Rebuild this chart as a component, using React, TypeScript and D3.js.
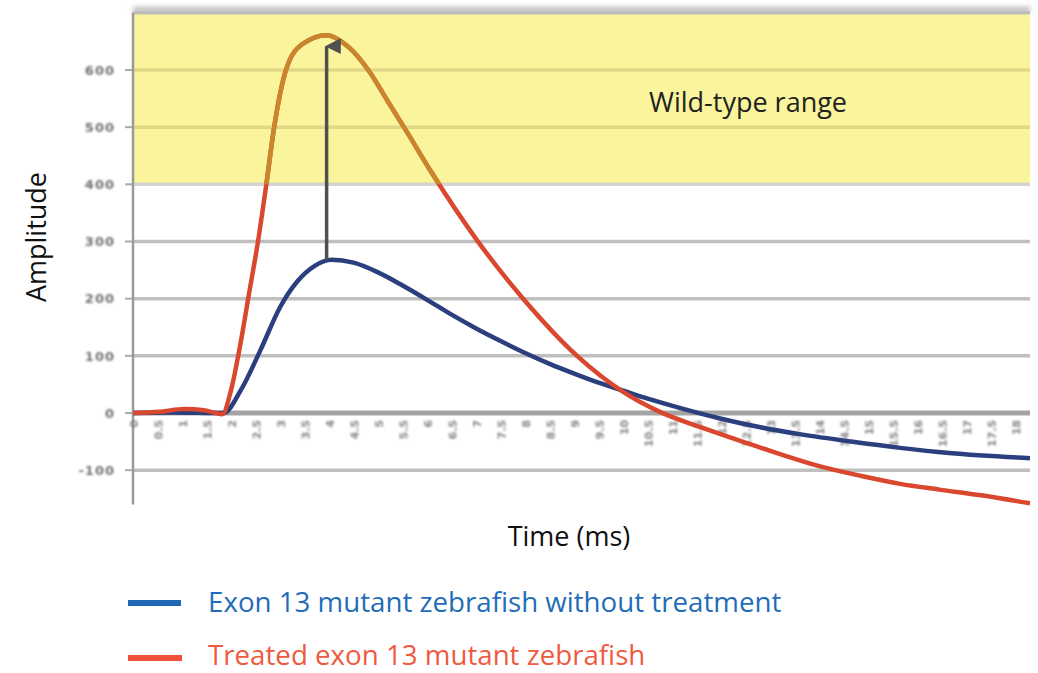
import React from "react";
import * as d3 from "d3";

// time in ms, amplitude values
const redTimes = [0, 0.55, 1.05, 1.45, 1.82, 2.0, 2.2, 2.37, 2.55, 2.72, 2.88, 3.12, 3.45, 3.95, 4.4, 4.8, 5.2, 5.6, 6.06, 7.02, 7.96, 9.06, 10.0, 10.75, 11.55, 12.4, 13.2, 14.0, 14.85, 15.65, 16.45, 17.3, 18.3];
const redValues = [0, 2, 7, 5, -2, 40, 125, 210, 300, 400, 500, 600, 645, 661, 640, 600, 545, 490, 425, 302, 200, 100, 37, 2, -24, -49, -72, -93, -110, -124, -134, -144, -158];

const blueTimes = [0, 0.8, 1.85, 2.2, 2.6, 3.0, 3.35, 3.7, 4.05, 4.5, 5.0, 5.5, 6.0, 6.5, 7.0, 7.5, 8.0, 8.5, 9.0, 9.5, 10.0, 10.5, 11.15, 12.0, 12.8, 13.6, 14.65, 15.65, 16.65, 18.3];
const blueValues = [0, 1, 0, 40, 110, 185, 230, 257, 268, 263, 246, 223, 198, 172, 148, 126, 105, 86, 69, 53, 39, 25, 9, -10, -25, -37, -50, -61, -70, -79];

const yTicks = [700, 600, 500, 400, 300, 200, 100, 0, -100];
const yLabels = ["600", "500", "400", "300", "200", "100", "0", "-100"];
const xTickLabels = ["0", "0.5", "1", "1.5", "2", "2.5", "3", "3.5", "4", "4.5", "5", "5.5", "6", "6.5", "7", "7.5", "8", "8.5", "9", "9.5", "10", "10.5", "11", "11.5", "12", "12.5", "13", "13.5", "14", "14.5", "15", "15.5", "16", "16.5", "17", "17.5", "18"];

const wildRange = [400, 700];

const seriesNames = ["Exon 13 mutant zebrafish without treatment", "Treated exon 13 mutant zebrafish"];

export default function App() {
  const width = 1038;
  const height = 673;
  const left = 133;
  const right = 1030;

  const x = d3.scaleLinear().domain([0, 18.3]).range([left, right]);
  const y = d3.scaleLinear().domain([0, 600]).range([413, 70]);
  const yBottom = y(-160);

  const line = d3
    .line<[number, number]>()
    .x((d) => x(d[0]))
    .y((d) => y(d[1]))
    .curve(d3.curveMonotoneX);

  const red = redTimes.map((t, i) => [t, redValues[i]] as [number, number]);
  const blue = blueTimes.map((t, i) => [t, blueValues[i]] as [number, number]);

  const redPeak = red.reduce((a, b) => (b[1] > a[1] ? b : a));
  const bluePeak = blue.reduce((a, b) => (b[1] > a[1] ? b : a));
  const arrowX = x(redPeak[0]);

  const font = "'Open Sans', sans-serif";

  return (
    <svg width={width} height={height} style={{ position: "absolute", left: 0, top: 0, background: "#fff" }}>
      <defs>
        <filter id="soft" x="-20%" y="-20%" width="140%" height="140%">
          <feGaussianBlur stdDeviation="0.8" />
        </filter>
        <filter id="shadow" x="-5%" y="-200%" width="110%" height="500%">
          <feGaussianBlur stdDeviation="2.5" />
        </filter>
        <clipPath id="band">
          <rect x={left} y={y(wildRange[1])} width={right - left} height={y(wildRange[0]) - y(wildRange[1])} />
        </clipPath>
        <marker id="arrow" viewBox="0 0 10 10" refX="5" refY="1" markerWidth="4.5" markerHeight="5" orient="auto-start-reverse">
          <path d="M0,10 L5,0 L10,10 Z" fill="#505050" />
        </marker>
      </defs>

      {/* top shadow */}
      <rect x={left} y={y(700) - 6} width={right - left} height={6} fill="#bbb" filter="url(#shadow)" />

      {/* wild-type band */}
      <rect x={left} y={y(wildRange[1])} width={right - left} height={y(wildRange[0]) - y(wildRange[1])} fill="#faf49c" />

      {/* grid lines */}
      {yTicks.map((v) => {
        const inBand = v > wildRange[0] && v < wildRange[1];
        const isZero = v === 0;
        return (
          <g key={v}>
            <line
              x1={left}
              x2={right}
              y1={y(v)}
              y2={y(v)}
              stroke={inBand ? "#ddd585" : isZero ? "#9a9a9a" : v === 400 ? "#cfcfcf" : "#b8b8b8"}
              strokeWidth={isZero ? 5 : 3.5}
              strokeOpacity={0.9}
            />
            {v !== 700 && <line x1={left - 8} x2={left} y1={y(v)} y2={y(v)} stroke="#aaa" strokeWidth={2} />}
          </g>
        );
      })}
      <line x1={left} x2={left} y1={y(700)} y2={yBottom} stroke="#9a9a9a" strokeWidth={2.5} />

      {/* y labels */}
      {yLabels.map((s) => (
        <text
          key={s}
          x={115}
          y={y(+s)}
          dy="0.36em"
          textAnchor="end"
          fontFamily="'DejaVu Sans', sans-serif"
          fontWeight="bold"
          fontSize={13}
          letterSpacing={1}
          fill="#707070"
          filter="url(#soft)"
        >
          {s}
        </text>
      ))}

      {/* x tick labels */}
      {xTickLabels.map((s) => (
        <text
          key={s}
          transform={`translate(${x(+s) + 5},${y(-12)}) rotate(-90)`}
          textAnchor="end"
          fontFamily="'DejaVu Sans', sans-serif"
          fontWeight="bold"
          fontSize={11}
          fill="#858585"
          filter="url(#soft)"
        >
          {s}
        </text>
      ))}

      {/* series */}
      <path d={line(blue) || ""} fill="none" stroke="#2b3f7e" strokeWidth={4.5} strokeLinejoin="round" />
      <path d={line(red) || ""} fill="none" stroke="#d9472f" strokeWidth={4.5} strokeLinejoin="round" />
      <path d={line(red) || ""} fill="none" stroke="#c9862c" strokeWidth={4.5} clipPath="url(#band)" />

      {/* arrow */}
      <line
        x1={arrowX}
        x2={arrowX}
        y1={y(bluePeak[1])}
        y2={y(redPeak[1]) + 11}
        stroke="#505050"
        strokeWidth={3.5}
        markerEnd="url(#arrow)"
      />

      <text x={748} y={112} textAnchor="middle" fontFamily={font} fontSize={27} fill="#222">
        Wild-type range
      </text>

      <text transform="translate(46,237) rotate(-90)" textAnchor="middle" fontFamily={font} fontSize={27} fill="#111">
        Amplitude
      </text>
      <text x={569} y={546} textAnchor="middle" fontFamily={font} fontSize={27} fill="#111">
        Time (ms)
      </text>

      {/* legend */}
      <line x1={128} x2={181} y1={603} y2={603} stroke="#1f68b3" strokeWidth={6} />
      <text x={208} y={612} fontFamily={font} fontSize={27.7} fill="#1f6db8">
        {seriesNames[0]}
      </text>
      <line x1={128} x2={182} y1={658} y2={658} stroke="#f0503a" strokeWidth={6} />
      <text x={208} y={665} fontFamily={font} fontSize={27.7} fill="#ef5a40">
        {seriesNames[1]}
      </text>
    </svg>
  );
}
